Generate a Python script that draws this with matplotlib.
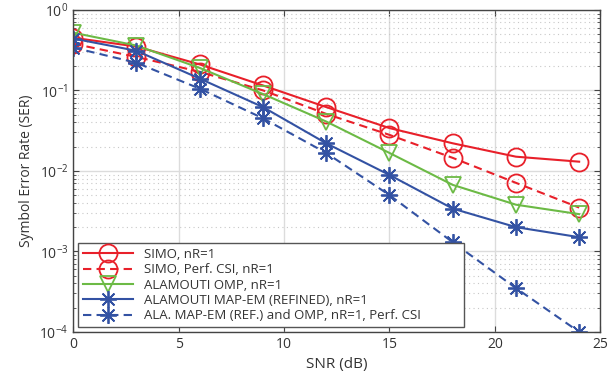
"""SER vs SNR curves for SIMO / Alamouti receivers"""

import matplotlib
matplotlib.use('Agg')
import matplotlib.pyplot as plt
from matplotlib.ticker import LogLocator, NullFormatter, FixedLocator

# == data ==
snr = [0, 3, 6, 9, 12, 15, 18, 21, 24]
simo = [0.45, 0.35, 0.21, 0.115, 0.062, 0.034, 0.022, 0.015, 0.013]
simo_csi = [0.38, 0.26, 0.17, 0.10, 0.051, 0.028, 0.0145, 0.0071, 0.0035]
ala_omp = [0.52, 0.36, 0.19, 0.09, 0.041, 0.0167, 0.0067, 0.0038, 0.0029]
ala_map = [0.44, 0.31, 0.14, 0.062, 0.022, 0.0089, 0.0034, 0.002, 0.0015]
ala_map_csi = [0.34, 0.22, 0.105, 0.045, 0.0167, 0.005, 0.0013, 0.00035, 0.0001]

labels = ['SIMO, nR=1', 'SIMO, Perf. CSI, nR=1', 'ALAMOUTI OMP, nR=1',
          'ALAMOUTI MAP-EM (REFINED), nR=1',
          'ALA. MAP-EM (REF.) and OMP, nR=1, Perf. CSI']

red = '#e8202a'
green = '#6cba45'
blue = '#3352a3'
star = (8, 2, 0)  # matlab-like asterisk

plt.rcParams['font.family'] = ['Open Sans', 'DejaVu Sans']
plt.rcParams['mathtext.fontset'] = 'custom'
plt.rcParams['mathtext.rm'] = 'Open Sans'

fig = plt.figure(figsize=(6.15, 3.78), dpi=100)
ax = fig.add_axes([0.119, 0.122, 0.857, 0.852])

kw = dict(lw=1.5, mfc='none', mew=1.3)
dash = (4, 2.5)
ax.plot(snr, simo, color=red, marker='o', ms=13, label=labels[0], **kw)
ax.plot(snr, simo_csi, color=red, marker='o', ms=13, ls='--', dashes=dash, label=labels[1], **kw)
ax.plot(snr, ala_omp, color=green, marker='v', ms=12, label=labels[2], **kw)
ax.plot(snr, ala_map, color=blue, marker=star, ms=12, label=labels[3], **kw)
ax.plot(snr, ala_map_csi, color=blue, marker=star, ms=12, ls='--', dashes=dash, label=labels[4], **kw)

ax.set_yscale('log')
ax.set_xlim(0, 25)
ax.set_ylim(1e-4, 1)
ax.xaxis.set_major_locator(FixedLocator([0, 5, 10, 15, 20, 25]))
ax.yaxis.set_major_locator(LogLocator(base=10, numticks=10))
ax.yaxis.set_minor_locator(LogLocator(base=10, subs=range(2, 10), numticks=10))
ax.yaxis.set_minor_formatter(NullFormatter())

ax.grid(True, which='major', color='#dcdcdc', lw=1.0, ls='-')
ax.grid(True, which='minor', axis='y', color='#c8c8c8', lw=0.8, ls=(0, (1, 3)))
ax.set_axisbelow(True)

ax.tick_params(which='both', direction='in', top=True, right=True,
               colors='#444444', labelcolor='#333333', labelsize=10)
ax.tick_params(which='major', length=4)
ax.tick_params(which='minor', length=2)
for s in ax.spines.values():
    s.set_color('#444444')
    s.set_linewidth(1.0)

ax.set_xlabel('SNR (dB)', fontsize=11, color='#333333')
ax.set_ylabel('Symbol Error Rate (SER)', fontsize=10, color='#333333')

# wide legend box like the matlab one
leg = ax.legend(loc='lower left', bbox_to_anchor=(0.0095, 0.0155, 0.732, 0.26),
                mode='expand', fontsize=9.5, fancybox=False, framealpha=1,
                edgecolor='#555555', handlelength=3.8, borderaxespad=0,
                labelspacing=0.18, borderpad=0.35)
leg.get_frame().set_linewidth(1.0)
for t in leg.get_texts():
    t.set_color('#333333')

fig.savefig('out.png', dpi=100)
